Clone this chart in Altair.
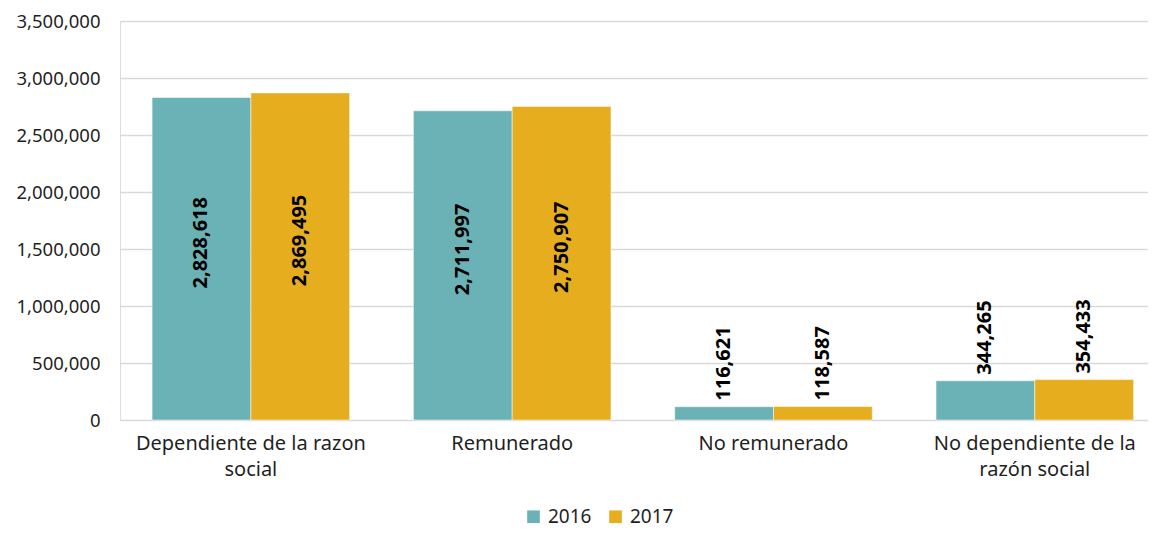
import altair as alt
import pandas as pd

categories = ["Dependiente de la razon social", "Remunerado", "No remunerado",
              "No dependiente de la razón social"]
years = ["2016", "2017"]
values_2016 = [2828618, 2711997, 116621, 344265]
values_2017 = [2869495, 2750907, 118587, 354433]
colors = ["#6AB2B5", "#E6AE1E"]

rows = []
for c, v in zip(categories, values_2016):
    rows.append({"categoria": c, "anio": "2016", "valor": v})
for c, v in zip(categories, values_2017):
    rows.append({"categoria": c, "anio": "2017", "valor": v})
df = pd.DataFrame(rows)

FONT = "Noto Sans"
TXT = "#1f1f1f"

label_expr = ("datum.value == 'Dependiente de la razon social' ? ['Dependiente de la razon', 'social'] : "
              "datum.value == 'No dependiente de la razón social' ? ['No dependiente de la', 'razón social'] : datum.value")

xscale = alt.Scale(paddingInner=0.244, paddingOuter=0.089, align=0.69)
xaxis = alt.Axis(labelExpr=label_expr, labelAngle=0, labelFontSize=20, labelFont=FONT,
                 labelColor=TXT, ticks=False, domain=False, labelPadding=13,
                 labelLineHeight=26, labelLimit=300)
yscale = alt.Scale(domain=[0, 3500000])
yaxis = alt.Axis(values=[0, 500000, 1000000, 1500000, 2000000, 2500000, 3000000, 3500000],
                 format=",.0f", labelFontSize=18.5, labelFont=FONT, labelColor=TXT,
                 ticks=False, domain=False, labelPadding=20,
                 gridColor="#d9d9d9", gridWidth=1.5)

x = alt.X("categoria:N", sort=categories, title=None, scale=xscale, axis=xaxis)
xo = alt.XOffset("anio:N", sort=years)
color = alt.Color("anio:N", sort=years, title=None,
                  scale=alt.Scale(domain=years, range=colors),
                  legend=alt.Legend(orient="none", legendX=404, legendY=486,
                                    direction="horizontal", symbolType="square",
                                    symbolSize=160, symbolStrokeWidth=0, labelFontSize=19,
                                    labelFont=FONT, labelColor=TXT, columnPadding=14,
                                    labelOffset=5))

base = alt.Chart(df)
bars = base.mark_bar(stroke="white", strokeWidth=0.5).encode(
    x=x, xOffset=xo, y=alt.Y("valor:Q", title=None, scale=yscale, axis=yaxis), color=color)

inside = base.transform_filter("datum.valor > 1000000").transform_calculate(
    mid="datum.valor / 2").mark_text(
    angle=270, align="center", baseline="middle", fontWeight="bold", fontSize=20,
    font=FONT, color="black", dx=16).encode(
    x=x, xOffset=xo,
    y=alt.Y("mid:Q", title=None, scale=yscale, axis=yaxis),
    text=alt.Text("valor:Q", format=","))

above = base.transform_filter("datum.valor <= 1000000").mark_text(
    angle=270, align="left", baseline="middle", fontWeight="bold", fontSize=20,
    font=FONT, color="black", dx=6).encode(
    x=x, xOffset=xo,
    y=alt.Y("valor:Q", title=None, scale=yscale, axis=yaxis),
    text=alt.Text("valor:Q", format=","))

chart = alt.layer(bars, inside, above).properties(
    width=1028, height=399, autosize="none",
    padding={"left": 112, "top": 13, "right": 0, "bottom": 110},
).configure_view(stroke=None).configure(background="white")

chart.save("out.html", embed_options={"renderer": "svg", "actions": False})
